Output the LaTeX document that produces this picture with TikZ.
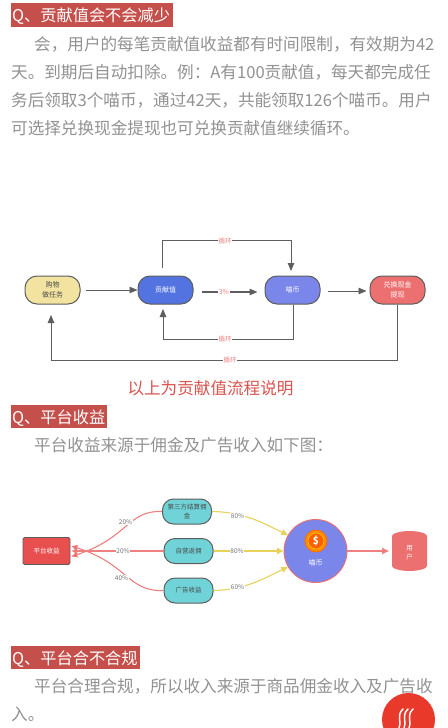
\documentclass[tikz,border=0pt]{standalone}
\usepackage{fontspec}
\setmainfont{Noto Sans CJK SC}
\usetikzlibrary{arrows.meta,shapes.geometric,calc}
\definecolor{headred}{HTML}{C5504B}
\definecolor{bodygray}{HTML}{929292}
\definecolor{edgegray}{HTML}{5E5E5E}
\definecolor{pinklab}{HTML}{EE8080}
\definecolor{capred}{HTML}{D9534F}
\definecolor{yellowfill}{HTML}{F2E3A0}
\definecolor{bluefill}{HTML}{5273E0}
\definecolor{purplefill}{HTML}{7B86EA}
\definecolor{redfill}{HTML}{EC7070}
\definecolor{tealfill}{HTML}{6FD3D8}
\definecolor{platred}{HTML}{E85050}
\definecolor{curvered}{HTML}{EE8080}
\definecolor{curveyellow}{HTML}{E8D25A}
\definecolor{btnred}{HTML}{E8392A}
\tikzset{
  headbox/.style={fill=headred,text=white,anchor=west,inner sep=0pt,font=\fontsize{16.2}{18}\selectfont,minimum height=23.5,text depth=0pt,align=left},
  bodytext/.style={text=bodygray,anchor=west,inner sep=0pt,font=\fontsize{16.6}{18}\selectfont},
  flowbox/.style={rounded corners=12,draw=edgegray,line width=1,minimum width=55,minimum height=28,font=\fontsize{7}{10}\selectfont,align=center,inner sep=0,text=#1},
  flowbox/.default=white,
  flowline/.style={draw=edgegray,line width=0.9,-{Triangle[length=8,width=6.5]}},
  looplabel/.style={fill=white,text=pinklab,font=\fontsize{6.5}{8}\selectfont,inner sep=0.6},
  teal/.style={rounded corners=11,fill=tealfill,draw=edgegray,line width=1,minimum width=49,minimum height=25,font=\fontsize{6.5}{8.5}\selectfont,align=center,inner sep=0,text=black!70},
  pct/.style={fill=white,text=black!55,font=\fontsize{6.5}{8}\selectfont,inner sep=0.5},
  redcurve/.style={draw=curvered,line width=1.1,-{Triangle[length=6,width=5.5,fill=platred]}},
  yelcurve/.style={draw=curveyellow,line width=1.1,-{Triangle[length=6.5,width=6]}},
}
\begin{document}
\begin{tikzpicture}[x=1pt,y=-1pt]
\clip (0,0) rectangle (447,728);
\useasboundingbox (0,0) rectangle (447,728);
\fill[white] (0,0) rectangle (447,728);

% Section 1
\node[headbox,minimum width=162] (h1) at (11,15) {\makebox[162pt][l]{\hspace{1pt}Q、贡献值会不会减少}};
\node[bodytext] (p1a) at (34,44) {会，用户的每笔贡献值收益都有时间限制，有效期为42};
\node[bodytext] (p1b) at (11,72) {天。到期后自动扣除。例：A有100贡献值，每天都完成任};
\node[bodytext] (p1c) at (11,100) {务后领取3个喵币，通过42天，共能领取126个喵币。用户};
\node[bodytext] (p1d) at (11,128) {可选择兑换现金提现也可兑换贡献值继续循环。};

% Flow diagram
\node[flowbox=black!70,fill=yellowfill] (buy) at (52.5,290) {购物\\做任务};
\node[flowbox,fill=bluefill] (val) at (165.5,290) {贡献值};
\node[flowbox,fill=purplefill] (coin) at (292.5,290) {喵币};
\node[flowbox,fill=redfill] (cash) at (397.5,290) {兑换现金\\提现};

\coordinate (topstart) at (162,268);
\coordinate (topcorner1) at (162,240);
\coordinate (topcorner2) at (291,240);
\coordinate (topend) at (291,271);
\draw[flowline] (topstart) -- (topcorner1) -- (topcorner2) -- (topend);
\node[looplabel] (l1) at (225,241) {循环};

\draw[flowline,shorten <=5pt] (buy.east) -- (val.west);
\draw[flowline,line width=1.2,shorten <=8pt,shorten >=7pt] ([yshift=-2pt]val.east) -- ([yshift=-2pt]coin.west);
\node[looplabel,font=\fontsize{7}{8}\selectfont] (l2) at (224,292) {3\%};
\draw[flowline,shorten <=7pt,shorten >=3pt] ([yshift=-1pt]coin.east) -- ([yshift=-1pt]cash.west);

\coordinate (midc1) at (293,339);
\coordinate (midc2) at (163,339);
\coordinate (midend) at (163,309);
\draw[flowline] ([xshift=0.5pt]coin.south) -- (midc1) -- (midc2) -- (midend);
\node[looplabel] (l3) at (225,339) {循环};

\coordinate (botc1) at (397.5,360);
\coordinate (botc2) at (51,360);
\coordinate (botend) at (51,315);
\draw[flowline] (cash.south) -- (botc1) -- (botc2) -- (botend);
\node[looplabel] (l4) at (230,360) {循环};

\node[text=capred,font=\fontsize{16.6}{18}\selectfont,inner sep=0] (cap) at (210.5,388) {以上为贡献值流程说明};

% Section 2
\node[headbox,minimum width=96] (h2) at (11,416.5) {\makebox[96pt][l]{\hspace{1pt}Q、平台收益}};
\node[bodytext] (p2) at (34,445) {平台收益来源于佣金及广告收入如下图：};

% Income diagram
\node[rounded corners=1.5,fill=platred,draw=edgegray,line width=0.8,minimum width=47,minimum height=27,inner sep=0,text=white,font=\fontsize{6.5}{8}\selectfont] (plat) at (46.5,551) {平台收益};
\node[teal] (t1) at (187,511.5) {第三方结算佣\\金};
\node[teal] (t2) at (188.5,551) {自营返佣};
\node[teal] (t3) at (188.5,590.5) {广告收益};

\draw[redcurve] (t1.west) .. controls (128,510) and (128,538) .. ([xshift=1pt,yshift=-5.5pt]plat.east);
\draw[redcurve,line width=1.7] (t2.west) -- ([xshift=1pt]plat.east);
\draw[redcurve] (t3.west) .. controls (128,592) and (128,564) .. ([xshift=1pt,yshift=5pt]plat.east);
\node[pct] (a1) at (125.5,522) {20\%};
\node[pct] (a2) at (123,551) {20\%};
\node[pct] (a3) at (121.5,578) {40\%};

\node[circle,fill=purplefill,draw=redfill,line width=0.9,minimum size=63,inner sep=0] (mc) at (315.5,551) {};
\node[circle,fill=orange!90!yellow,draw=orange!85!red,line width=0.8,minimum size=22,inner sep=0] (coinring) at (316,541) {};
\node[circle,fill=orange!75!red,draw=yellow!60!orange,line width=0.6,minimum size=16,inner sep=0,text=white,font=\fontsize{10}{12}\selectfont\bfseries] (dollar) at (316,541) {\$};
\node[text=white,font=\fontsize{7}{8}\selectfont,inner sep=0] (mct) at (315.5,563) {喵币};

% Cylinder drawn directly
\fill[redfill] (392,536) .. controls (392,533) and (402,531) .. (409.5,531)
  .. controls (417,531) and (427,533) .. (427,536) -- (427,566)
  .. controls (427,569) and (417,571) .. (409.5,571)
  .. controls (402,571) and (392,569) .. (392,566) -- cycle;
\coordinate (userwest) at (392,551);
\node[align=center,text=white,font=\fontsize{6.5}{9}\selectfont,inner sep=0] (usert) at (409.5,553) {用\\户};

\draw[yelcurve] (t1.east) .. controls (245,512) and (265,524) .. (mc.150);
\draw[yelcurve,line width=1.7] (t2.east) -- (mc.west);
\draw[yelcurve] (t3.east) .. controls (245,590) and (265,578) .. (mc.210);
\node[pct] (b1) at (237.5,516) {80\%};
\node[pct] (b2) at (237,551) {80\%};
\node[pct] (b3) at (237.5,587) {60\%};

\draw[draw=curvered,line width=1.7,-{Triangle[length=7,width=6,fill=platred]},shorten >=3pt] (mc.east) -- (userwest);

% Section 3
\node[headbox,minimum width=129] (h3) at (11,657.5) {\makebox[129pt][l]{\hspace{1pt}Q、平台合不合规}};
\node[bodytext] (p3a) at (34,686) {平台合理合规，所以收入来源于商品佣金收入及广告收};
\node[bodytext] (p3b) at (11,714) {入。};

% Floating button
\fill[btnred] (408.5,719.5) circle (26.5);
\foreach \dx in {0,5,10}{
  \draw[white,line width=1.5,line cap=round] ({403+\dx},709) .. controls ({396+\dx},716) and ({402+\dx},720) .. ({399+\dx},728);
}
\end{tikzpicture}
\end{document}
